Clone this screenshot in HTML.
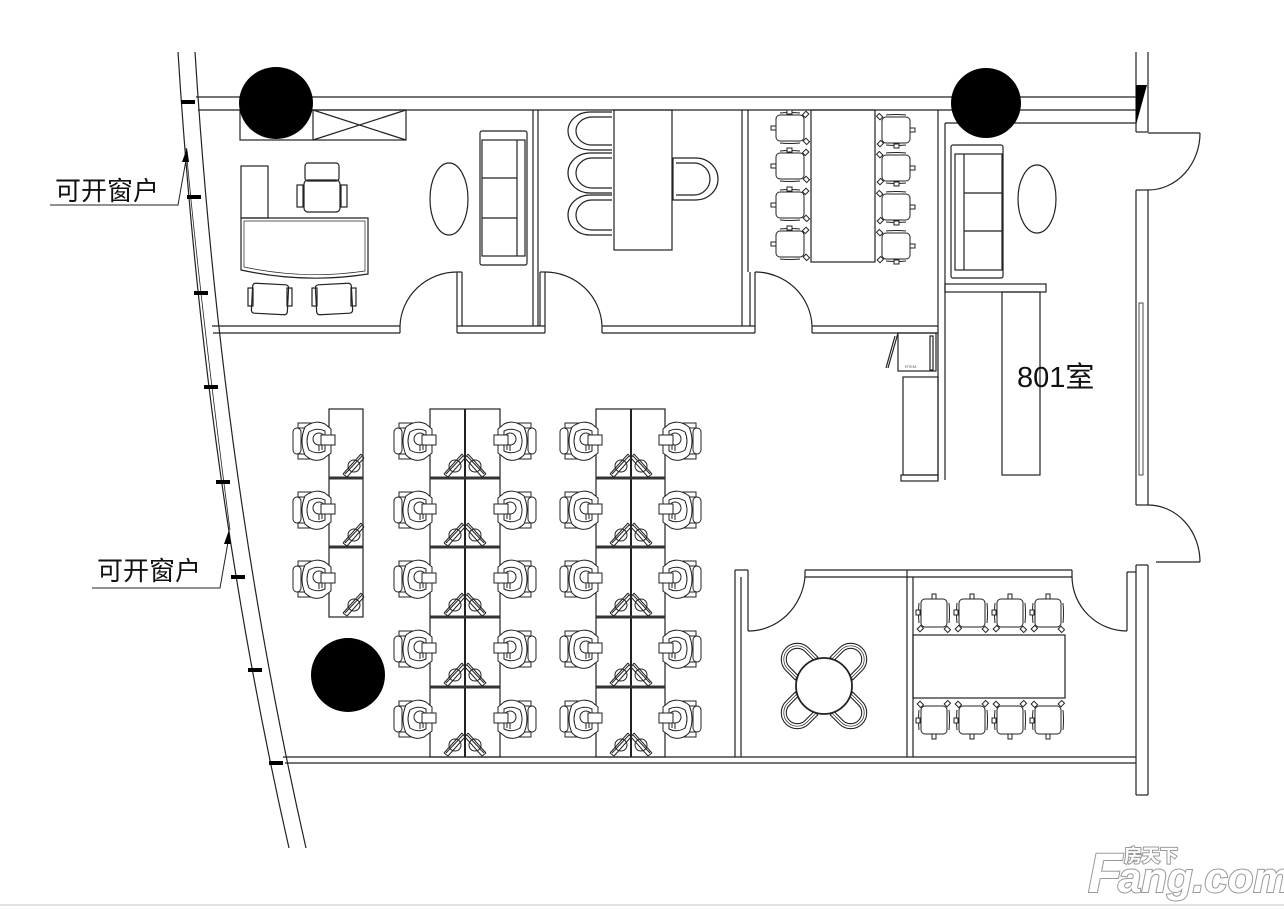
<!DOCTYPE html>
<html><head><meta charset="utf-8">
<style>
html,body{margin:0;padding:0;background:#fff;}
svg{display:block;}
text{font-family:"Liberation Sans","Noto Sans CJK SC",sans-serif;}
</style></head>
<body>
<svg width="1284" height="910" viewBox="0 0 1284 910" xmlns="http://www.w3.org/2000/svg">
<defs>
  <g id="ws" fill="none" stroke="#222" stroke-width="1">
    <rect x="-36" y="-13" width="8" height="26" rx="4" fill="#fff"/>
    <rect x="-31" y="-18" width="13" height="5" fill="#fff"/>
    <rect x="-31" y="13" width="13" height="5" fill="#fff"/>
    <path d="M-24,-14 Q-14,-22 -4,-17 L2,-12 L2,12 L-6,18 Q-16,22 -24,14 Q-30,0 -24,-14Z" fill="#fff"/>
    <path d="M-20,-9 Q-12,-14 -4,-10 L-4,10 Q-12,14 -20,9 Q-24,0 -20,-9Z"/>
    <circle cx="-10" cy="-2" r="6"/>
    <path d="M-10,4 L-10,10 M-7,4 L-7,9"/>
    <rect x="-8" y="-6" width="14" height="10" fill="#fff"/>
  </g>
  <g id="hatch" fill="none" stroke="#222" stroke-width="1">
    <circle cx="-9" cy="-10" r="6"/>
    <path d="M-20,-2 L-2,-22 M-16,1 L1,-18 M-20,-2 L-16,1 M-2,-22 L1,-18" fill="#fff"/>
    <path d="M-18,-2 L-1,-20" />
  </g>
  <g id="mc" fill="#fff" stroke="#222" stroke-width="1">
    <rect x="3" y="4" width="26" height="28" rx="4"/>
    <path d="M1,8 Q0,18 1,28 M31,8 Q32,18 31,28" fill="none"/>
    <rect x="0" y="0" width="5" height="4" transform="rotate(45 2 2)"/>
    <rect x="27" y="0" width="5" height="4" transform="rotate(-45 29 2)"/>
    <rect x="14" y="32" width="4" height="5"/>
    <rect x="-2" y="16" width="4" height="5"/>
  </g>
  <!-- round chair, opening down -->
  <g id="rc" fill="#fff" stroke="#222" stroke-width="1.1">
    <path d="M-16,12 L-16,-1 A16,16 0 0 1 16,-1 L16,12 L11,12 L11,-1 A11,11 0 0 0 -11,-1 L-11,12 Z"/>
    <path d="M-13.5,12 L-13.5,-1 A13.5,13.5 0 0 1 13.5,-1 L13.5,12" fill="none" stroke-width="0.7"/>
  </g>
</defs>

<rect width="1284" height="910" fill="#fff"/>
<line x1="0" y1="905" x2="1284" y2="905" stroke="#e4e4e4" stroke-width="2"/>

<g fill="none" stroke="#222" stroke-width="1.2">
  <path d="M178,52 Q205,480 289,848"/>
  <path d="M195,52 Q222,480 306,848"/>
  <path d="M186,148 Q200,300 230,530" stroke-width="0.8"/>

  <line x1="196" y1="97" x2="1136" y2="97"/>
  <line x1="198" y1="110" x2="1136" y2="110"/>
  <line x1="1136" y1="52" x2="1136" y2="132"/>
  <line x1="1148" y1="52" x2="1148" y2="132"/>
  <line x1="1136" y1="132" x2="1148" y2="132"/>
  <line x1="1148" y1="133" x2="1200" y2="133"/>
  <path d="M1200,133 A52,57 0 0 1 1148,190"/>
  <line x1="1136" y1="190" x2="1136" y2="505"/>
  <line x1="1148" y1="190" x2="1148" y2="505"/>
  <line x1="1136" y1="190" x2="1148" y2="190"/>
  <rect x="1139" y="303" width="4" height="172" stroke-width="0.8"/>
  <line x1="1136" y1="505" x2="1148" y2="505"/>
  <path d="M1148,505 A52,57 0 0 1 1200,562"/>
  <line x1="1156" y1="562" x2="1200" y2="562"/>
  <line x1="1136" y1="565" x2="1148" y2="565"/>
  <line x1="1136" y1="565" x2="1136" y2="795"/>
  <line x1="1148" y1="565" x2="1148" y2="795"/>
  <line x1="1136" y1="795" x2="1148" y2="795"/>

  <line x1="283" y1="757" x2="1136" y2="757"/>
  <line x1="285" y1="763" x2="1136" y2="763"/>

  <line x1="212" y1="326" x2="400" y2="326"/>
  <line x1="213" y1="333" x2="400" y2="333"/>
  <line x1="400" y1="326" x2="400" y2="333"/>
  <line x1="457" y1="326" x2="545" y2="326"/>
  <line x1="457" y1="333" x2="545" y2="333"/>
  <line x1="602" y1="326" x2="755" y2="326"/>
  <line x1="602" y1="333" x2="755" y2="333"/>
  <line x1="602" y1="326" x2="602" y2="333"/>
  <line x1="812" y1="326" x2="938" y2="326"/>
  <line x1="812" y1="333" x2="938" y2="333"/>
  <line x1="812" y1="326" x2="812" y2="333"/>
  <line x1="457" y1="272" x2="457" y2="333"/><line x1="462" y1="272" x2="462" y2="326"/><line x1="457" y1="272" x2="462" y2="272"/>
  <path d="M400,326 A57,56 0 0 1 457,272"/>
  <line x1="545" y1="272" x2="545" y2="333"/><line x1="540" y1="272" x2="540" y2="326"/><line x1="540" y1="272" x2="545" y2="272"/>
  <path d="M545,272 A57,56 0 0 1 602,326"/>
  <line x1="755" y1="272" x2="755" y2="333"/><line x1="750" y1="272" x2="750" y2="326"/>
  <path d="M755,272 A57,56 0 0 1 812,326"/>
  <line x1="533" y1="110" x2="533" y2="326"/>
  <line x1="538" y1="110" x2="538" y2="326"/>
  <line x1="742" y1="110" x2="742" y2="326"/>
  <line x1="748" y1="110" x2="748" y2="272"/>
  <line x1="938" y1="110" x2="938" y2="480"/>
  <line x1="945" y1="123" x2="945" y2="480"/>
  <line x1="945" y1="123" x2="1136" y2="123"/>

  <rect x="240" y="110" width="166" height="30"/>
  <line x1="313" y1="110" x2="313" y2="140"/>
  <line x1="313" y1="110" x2="406" y2="140"/><line x1="313" y1="140" x2="406" y2="110"/>
  <rect x="241" y="166" width="27" height="52"/>
  <path d="M241,218 L368,218 L368,274 Q305,284 241,270 Z"/>
  <path d="M244,221 L365,221 L365,271 Q305,280 244,267 Z" stroke-width="0.7"/>
  <rect x="304" y="180" width="36" height="32" rx="4"/>
  <rect x="305" y="163" width="34" height="18" rx="3"/>
  <rect x="297" y="185" width="6" height="22"/><rect x="341" y="185" width="6" height="22"/>
  <rect x="252" y="284" width="36" height="30" rx="3" transform="rotate(3 270 299)"/>
  <rect x="316" y="284" width="36" height="30" rx="3" transform="rotate(-3 334 299)"/>
  <rect x="248" y="288" width="5" height="18"/><rect x="287" y="288" width="5" height="18"/>
  <rect x="312" y="288" width="5" height="18"/><rect x="351" y="288" width="5" height="18"/>
  <ellipse cx="449" cy="199" rx="19" ry="36"/>
  <rect x="480" y="131" width="47" height="134" rx="2"/>
  <rect x="482" y="140" width="43" height="116"/>
  <line x1="517" y1="140" x2="517" y2="256"/>
  <line x1="482" y1="178" x2="517" y2="178"/><line x1="482" y1="218" x2="517" y2="218"/>

  <rect x="614" y="110" width="58" height="140"/>
  <path d="M612,112 L590,112 A22,19 0 0 0 590,150 L612,150"/>
  <path d="M612,117 L592,117 A16,14 0 0 0 592,145 L612,145"/>
  <path d="M612,153 L590,153 A22,20 0 0 0 590,193 L612,193"/>
  <path d="M612,158 L592,158 A16,15 0 0 0 592,188 L612,188"/>
  <path d="M612,195 L590,195 A22,20 0 0 0 590,235 L612,235"/>
  <path d="M612,200 L592,200 A16,15 0 0 0 592,230 L612,230"/>
  <path d="M673,158 L696,158 A22,21 0 0 1 696,200 L673,200 Z"/>
  <path d="M676,163 L694,163 A16,16 0 0 1 694,195 L676,195"/>

  <rect x="811" y="110" width="64" height="152"/>
  <ellipse cx="1037" cy="199" rx="19" ry="34"/>
  <rect x="951" y="145" width="52" height="133" rx="2"/>
  <rect x="955" y="154" width="47" height="116"/>
  <line x1="964" y1="154" x2="964" y2="270"/>
  <line x1="964" y1="193" x2="1002" y2="193"/><line x1="964" y1="231" x2="1002" y2="231"/>
  <rect x="945" y="284" width="101" height="8"/>
  <rect x="1002" y="292" width="38" height="183"/>
  <rect x="903" y="377" width="35" height="98"/>
  <rect x="901" y="475" width="37" height="6"/>
  <rect x="898" y="333" width="38" height="38"/>
  <line x1="898" y1="333" x2="888" y2="368"/><line x1="895" y1="336" x2="886" y2="368"/>
  <rect x="930" y="336" width="3" height="34"/>
  <text x="905" y="368" font-size="4" fill="#555" stroke="none">RTEM</text>

  <line x1="735" y1="570" x2="735" y2="757"/>
  <line x1="741" y1="577" x2="741" y2="757"/>
  <line x1="735" y1="570" x2="748" y2="570"/>
  <line x1="748" y1="570" x2="748" y2="631"/>
  <path d="M748,631 A57,60 0 0 0 805,577"/>
  <line x1="805" y1="570" x2="1072" y2="570"/>
  <line x1="805" y1="577" x2="1072" y2="577"/>
  <line x1="805" y1="570" x2="805" y2="577"/><line x1="1072" y1="570" x2="1072" y2="577"/>
  <line x1="907" y1="570" x2="907" y2="757"/>
  <line x1="913" y1="577" x2="913" y2="757"/>
  <path d="M1072,577 A55,55 0 0 0 1127,631"/>
  <line x1="1127" y1="572" x2="1127" y2="631"/>
  <line x1="1127" y1="572" x2="1136" y2="572"/>
  <rect x="913" y="635" width="152" height="63"/>

  <rect x="329" y="409" width="34" height="208"/>
  <rect x="430" y="409" width="70" height="348"/>
  <rect x="596" y="409" width="69" height="348"/>
  <line x1="465" y1="409" x2="465" y2="757" stroke-width="2"/>
  <line x1="631" y1="409" x2="631" y2="757" stroke-width="2"/>
</g>

<!-- round table with chairs -->
<use href="#rc" transform="translate(798,660) rotate(-45)"/>
<use href="#rc" transform="translate(850,660) rotate(45)"/>
<use href="#rc" transform="translate(798,712) rotate(-135)"/>
<use href="#rc" transform="translate(850,712) rotate(135)"/>
<circle cx="824" cy="686" r="28" fill="#fff" stroke="#222" stroke-width="1.8"/>

<g stroke="#333" stroke-width="3">
  <line x1="329" y1="478" x2="363" y2="478"/><line x1="329" y1="547" x2="363" y2="547"/>
  <line x1="430" y1="478" x2="500" y2="478"/><line x1="430" y1="547" x2="500" y2="547"/>
  <line x1="430" y1="617" x2="500" y2="617"/><line x1="430" y1="687" x2="500" y2="687"/>
  <line x1="596" y1="478" x2="665" y2="478"/><line x1="596" y1="547" x2="665" y2="547"/>
  <line x1="596" y1="617" x2="665" y2="617"/><line x1="596" y1="687" x2="665" y2="687"/>
</g>

<use href="#ws" x="329" y="441"/><use href="#ws" x="329" y="510"/><use href="#ws" x="329" y="579"/>
<use href="#ws" x="430" y="441"/><use href="#ws" x="430" y="510"/><use href="#ws" x="430" y="579"/><use href="#ws" x="430" y="649"/><use href="#ws" x="430" y="719"/>
<use href="#ws" x="596" y="441"/><use href="#ws" x="596" y="510"/><use href="#ws" x="596" y="579"/><use href="#ws" x="596" y="649"/><use href="#ws" x="596" y="719"/>
<g transform="translate(1000,0) scale(-1,1)">
  <use href="#ws" x="500" y="441"/><use href="#ws" x="500" y="510"/><use href="#ws" x="500" y="579"/><use href="#ws" x="500" y="649"/><use href="#ws" x="500" y="719"/>
</g>
<g transform="translate(1330,0) scale(-1,1)">
  <use href="#ws" x="665" y="441"/><use href="#ws" x="665" y="510"/><use href="#ws" x="665" y="579"/><use href="#ws" x="665" y="649"/><use href="#ws" x="665" y="719"/>
</g>
<use href="#hatch" x="363" y="476"/><use href="#hatch" x="363" y="545"/><use href="#hatch" x="363" y="615"/>
<use href="#hatch" x="464" y="476"/><use href="#hatch" x="464" y="545"/><use href="#hatch" x="464" y="615"/><use href="#hatch" x="464" y="685"/><use href="#hatch" x="464" y="755"/>
<use href="#hatch" x="630" y="476"/><use href="#hatch" x="630" y="545"/><use href="#hatch" x="630" y="615"/><use href="#hatch" x="630" y="685"/><use href="#hatch" x="630" y="755"/>
<g transform="translate(932,0) scale(-1,1)">
  <use href="#hatch" x="466" y="476"/><use href="#hatch" x="466" y="545"/><use href="#hatch" x="466" y="615"/><use href="#hatch" x="466" y="685"/><use href="#hatch" x="466" y="755"/>
</g>
<g transform="translate(1264,0) scale(-1,1)">
  <use href="#hatch" x="632" y="476"/><use href="#hatch" x="632" y="545"/><use href="#hatch" x="632" y="615"/><use href="#hatch" x="632" y="685"/><use href="#hatch" x="632" y="755"/>
</g>

<g transform="translate(808,112) rotate(90)">
  <use href="#mc" x="0" y="0"/><use href="#mc" x="38" y="0"/><use href="#mc" x="77" y="0"/><use href="#mc" x="116" y="0"/>
</g>
<g transform="translate(878,146) rotate(-90)">
  <use href="#mc" x="0" y="0"/><use href="#mc" x="-38" y="0"/><use href="#mc" x="-77" y="0"/><use href="#mc" x="-116" y="0"/>
</g>
<g transform="translate(918,631) scale(1,-1)">
  <use href="#mc" x="0" y="0"/><use href="#mc" x="38" y="0"/><use href="#mc" x="76" y="0"/><use href="#mc" x="114" y="0"/>
</g>
<g transform="translate(918,702)">
  <use href="#mc" x="0" y="0"/><use href="#mc" x="38" y="0"/><use href="#mc" x="76" y="0"/><use href="#mc" x="114" y="0"/>
</g>

<ellipse cx="276" cy="103" rx="37" ry="36" fill="#000"/>
<circle cx="986" cy="103" r="35" fill="#000"/>
<circle cx="348" cy="675" r="37" fill="#000"/>
<polygon points="1136,85 1147,85 1136,125" fill="#000"/>

<g stroke="#000" stroke-width="4">
  <line x1="181" y1="102" x2="195" y2="102"/>
  <line x1="187" y1="197" x2="201" y2="197"/>
  <line x1="194" y1="293" x2="208" y2="293"/>
  <line x1="204" y1="387" x2="218" y2="387"/>
  <line x1="216" y1="482" x2="230" y2="482"/>
  <line x1="231" y1="577" x2="245" y2="577"/>
  <line x1="248" y1="670" x2="262" y2="670"/>
  <line x1="269" y1="763" x2="283" y2="763"/>
</g>

<g fill="none" stroke="#222" stroke-width="1">
  <polyline points="50,205 178,205 186,160"/>
  <polyline points="92,588 220,588 228,542"/>
</g>
<polygon points="187,148 182,162 189,162" fill="#000"/>
<polygon points="229,530 224,544 231,544" fill="#000"/>
<text x="55" y="200" font-size="26" fill="#111">可开窗户</text>
<text x="97" y="580" font-size="26" fill="#111">可开窗户</text>
<text x="1017" y="387" font-size="29" fill="#111">801室</text>

<g font-weight="bold" fill="#fff" stroke="#999" stroke-width="2" paint-order="stroke">
  <text x="1088" y="892" font-size="56" font-style="italic">F</text>
  <text x="1118" y="892" font-size="42" font-style="italic">ang.com</text>
  <text x="1124" y="862" font-size="18">房天下</text>
</g>
</svg>
</body></html>
